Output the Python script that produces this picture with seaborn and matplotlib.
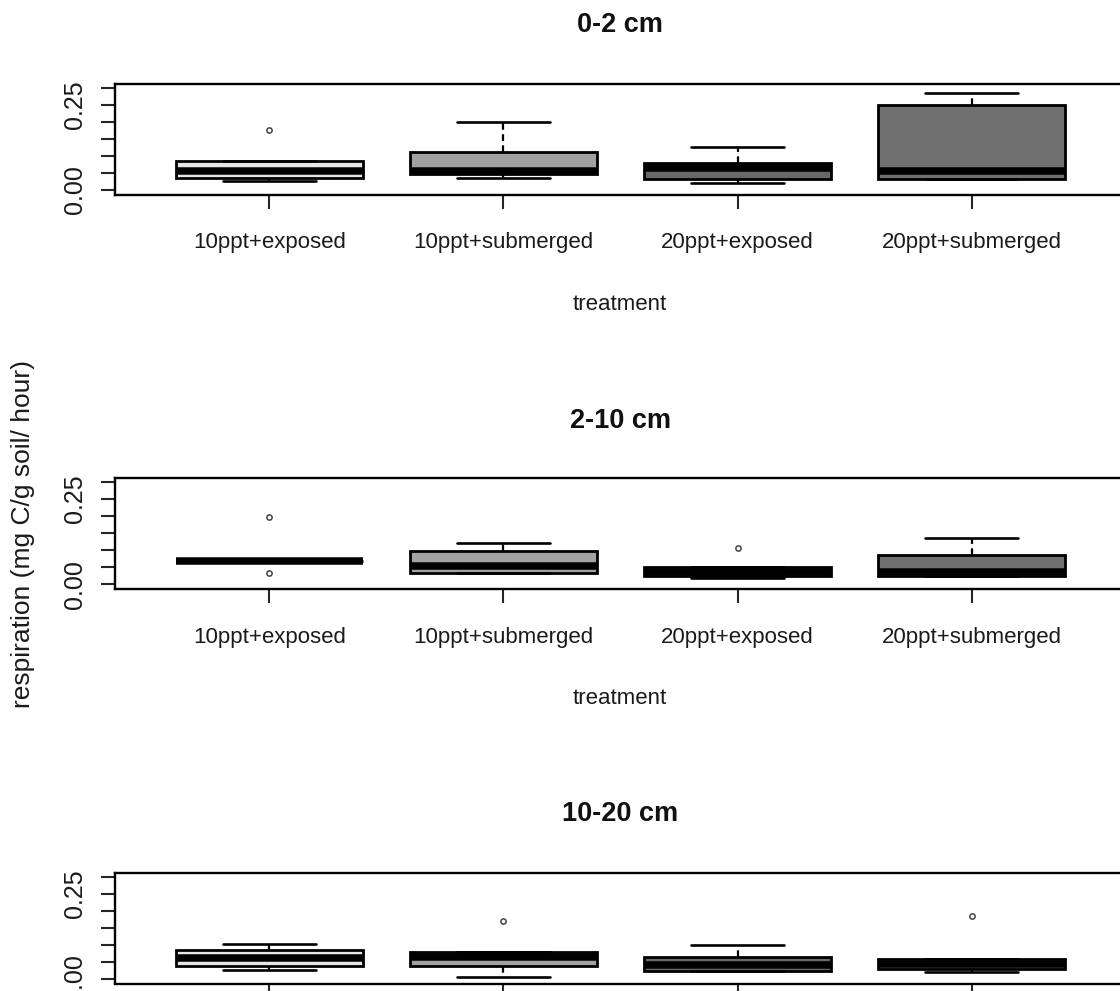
import numpy as np
import pandas as pd
import matplotlib
matplotlib.use("Agg")
import matplotlib.pyplot as plt
import seaborn as sns

# values (respiration, mg C / g soil / hour)
depths = ["0-2 cm", "2-10 cm", "10-20 cm"]
treatments = ["10ppt+exposed", "10ppt+submerged", "20ppt+exposed", "20ppt+submerged"]
box_colors = ["#e6e6e6", "#a2a2a2", "#686868", "#707070"]

# one row per depth, one column per treatment
whisker_low = [
	[0.026, 0.034, 0.019, 0.032],
	[0.069, 0.033, 0.019, 0.025],
	[0.027, 0.005, 0.024, 0.020],
]
q1 = [
	[0.035, 0.047, 0.032, 0.032],
	[0.069, 0.033, 0.024, 0.025],
	[0.039, 0.039, 0.024, 0.029],
]
median = [
	[0.055, 0.056, 0.064, 0.055],
	[0.069, 0.055, 0.037, 0.036],
	[0.062, 0.064, 0.040, 0.044],
]
q3 = [
	[0.086, 0.112, 0.078, 0.250],
	[0.069, 0.098, 0.052, 0.086],
	[0.086, 0.079, 0.065, 0.059],
]
whisker_high = [
	[0.086, 0.199, 0.126, 0.284],
	[0.069, 0.121, 0.052, 0.135],
	[0.101, 0.079, 0.098, 0.059],
]
# (treatment index, value)
outliers = [
	[(0, 0.176)],
	[(0, 0.199), (0, 0.034), (2, 0.106)],
	[(1, 0.170), (3, 0.184)],
]

FONT = ["Liberation Sans", "DejaVu Sans"]


def _readings(d: int, t: int) -> list:
	# nine readings whose quartiles / whiskers give the box drawn for (depth, treatment)
	pts = [whisker_low[d][t], q1[d][t], q1[d][t], median[d][t], median[d][t],
		q3[d][t], q3[d][t], whisker_high[d][t], whisker_high[d][t]]
	for ti, v in outliers[d]:
		if ti != t:
			continue
		if v > q3[d][t]:
			pts[-1] = v
		else:
			pts[0] = v
	return pts


rows = []
for d, depth in enumerate(depths):
	for t, trt in enumerate(treatments):
		for v in _readings(d, t):
			rows.append({"depth": depth, "treatment": trt, "respiration": v})
df = pd.DataFrame(rows)

sns.set_style("ticks")
plt.rcParams["font.family"] = FONT
W, H = 1120, 991
fig = plt.figure(figsize=(W / 100, H / 100), dpi=100)

ax_left, ax_w, ax_h = 115, 1011, 111
ax_tops = [83.5, 478, 872.5]
title_y = [25, 421, 814]
xlab_y = [305, 699]

for i, depth in enumerate(depths):
	top = ax_tops[i]
	ax = fig.add_axes([ax_left / W, 1 - (top + ax_h) / H, ax_w / W, ax_h / H])
	sub = df.loc[df["depth"] == depth]
	sns.boxplot(
		data=sub, x="treatment", y="respiration", hue="treatment", order=treatments,
		hue_order=treatments, palette=box_colors, saturation=1, width=0.8, whis=1.5,
		linecolor="black", linewidth=2.0, legend=False, ax=ax,
		medianprops={"linewidth": 5.4, "color": "black", "solid_capstyle": "butt"},
		whiskerprops={"linestyle": (0, (3, 2)), "linewidth": 1.6},
		capprops={"linewidth": 1.9},
		flierprops={"marker": "o", "markersize": 3.8, "markerfacecolor": "none",
			"markeredgecolor": "#444444", "markeredgewidth": 1.1},
	)
	ax.set_xlim(-0.66, 3.66)
	ax.set_ylim(-0.0135, 0.312)
	ax.set_yticks(np.arange(0, 0.301, 0.05))
	ax.set_yticklabels(["0.00", "", "", "", "", "0.25", ""])
	ax.set_xlabel("")
	ax.set_ylabel("")
	for s in ax.spines.values():
		s.set_visible(True)
		s.set_linewidth(1.7)
		s.set_color("black")
	ax.tick_params(axis="x", length=10, width=1.5, pad=17, labelsize=16, labelcolor="#1a1a1a")
	ax.tick_params(axis="y", length=10, width=1.5, pad=10, labelsize=18, labelrotation=90,
		labelcolor="#1a1a1a")
	for lab in ax.get_yticklabels():
		lab.set_verticalalignment("center")
	if i == len(depths) - 1:
		# the bottom panel's category names fall below the visible area
		ax.tick_params(axis="x", labelbottom=False)
	fig.text(620 / W, 1 - title_y[i] / H, depth, ha="center", va="center",
		fontsize=19.5, fontweight="bold", color="#111111")
	if i < len(xlab_y):
		fig.text(620 / W, 1 - xlab_y[i] / H, "treatment", ha="center", va="center",
			fontsize=16, color="#1a1a1a")

fig.text(23 / W, 1 - 534 / H, "respiration (mg C/g soil/ hour)", rotation=90,
	ha="center", va="center", fontsize=19, color="#1a1a1a")

fig.savefig("out.png", dpi=100)
plt.close(fig)
